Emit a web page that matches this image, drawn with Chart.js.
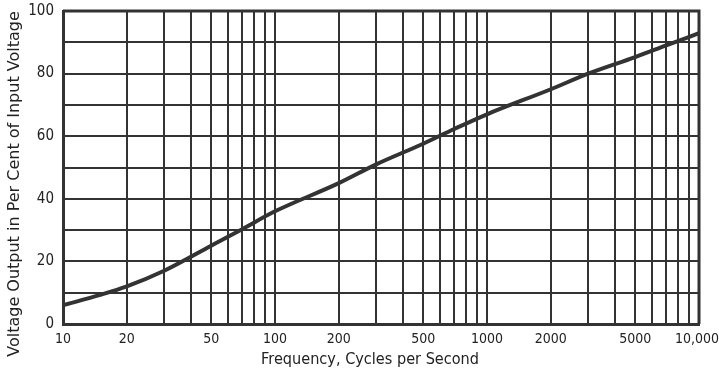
<!DOCTYPE html>
<html>
<head>
<meta charset="utf-8">
<script src="https://cdn.jsdelivr.net/npm/chart.js@4.4.1/dist/chart.umd.min.js"></script>
<style>
  html, body { margin: 0; padding: 0; background: #fff; }
  #wrap { width: 719px; height: 371px; position: relative; }
</style>
</head>
<body>
<div id="wrap"><canvas id="freqchart"></canvas></div>
<script>
// frequency response
var frequency = [10, 15, 20, 30, 50, 70, 100, 200, 300, 500, 700, 1000, 2000, 3000, 5000, 7000, 10000];
var outputPct = [6, 9.3, 12, 17, 25, 30.3, 36, 45, 51, 57.6, 62.3, 67, 75, 80, 85.3, 89, 92.9];

// log paper grid lines and the ones that carry a label
var xGrid = [10, 20, 30, 40, 50, 60, 70, 80, 90, 100, 200, 300, 400, 500, 600, 700, 800, 900,
  1000, 2000, 3000, 4000, 5000, 6000, 7000, 8000, 9000, 10000];
var xLabels = { 10: "10", 20: "20", 50: "50", 100: "100", 200: "200", 500: "500",
  1000: "1000", 2000: "2000", 5000: "5000", 10000: "10,000 " }; // trailing space keeps it inside the canvas
var yLabels = [0, 20, 40, 60, 80, 100];
var xTitle = "Frequency, Cycles per Second";
var yTitle = "Voltage Output in Per Cent of Input Voltage";

var ink = "#333";
var fontFam = "'DejaVu Sans', sans-serif";
var tickFam = "'DejaVu Sans Condensed', 'DejaVu Sans', sans-serif";

var pts = frequency.map(function (f, i) { return { x: f, y: outputPct[i] }; });

var ctx = document.getElementById("freqchart").getContext("2d");
var chart = new Chart(ctx, {
  type: "line",
  data: {
    datasets: [{
      data: pts,
      borderColor: ink,
      borderWidth: 4,
      pointRadius: 0,
      cubicInterpolationMode: "monotone",
      fill: false
    }]
  },
  options: {
    responsive: true,
    maintainAspectRatio: false,
    animation: false,
    layout: { padding: { left: 0, right: 20, top: 11, bottom: 0 } },
    plugins: { legend: { display: false }, tooltip: { enabled: false } },
    scales: {
      x: {
        type: "logarithmic",
        min: 10,
        max: 10000,
        afterBuildTicks: function (scale) {
          scale.ticks = xGrid.map(function (v) { return { value: v }; });
        },
        afterFit: function (scale) {
          scale.height = 47;
          scale.paddingLeft = 0;
          scale.paddingRight = 0;
        },
        grid: { color: ink, lineWidth: 2, drawTicks: false },
        border: { color: ink, width: 3 },
        ticks: {
          autoSkip: false,
          maxRotation: 0,
          padding: 7,
          color: "#222",
          font: { family: tickFam, size: 14 },
          callback: function (v) { return xLabels[v] || ""; }
        }
      },
      y: {
        min: 0,
        max: 100,
        afterBuildTicks: function (scale) {
          var t = [];
          for (var v = 0; v <= 100; v += 10) t.push({ value: v });
          scale.ticks = t;
        },
        afterFit: function (scale) {
          scale.width = 63;
          scale.paddingTop = 0;
          scale.paddingBottom = 0;
        },
        grid: { color: ink, lineWidth: 2, drawTicks: false },
        border: { color: ink, width: 3 },
        ticks: {
          autoSkip: false,
          padding: 9,
          color: "#222",
          font: { family: tickFam, size: 15 },
          callback: function (v) { return yLabels.indexOf(v) >= 0 ? String(v) : ""; }
        }
      }
    }
  },
  plugins: [{
    id: "frameAndTitles",
    afterDraw: function (c) {
      var a = c.chartArea, g = c.ctx;
      g.save();
      g.strokeStyle = ink;
      g.lineWidth = 3;
      g.beginPath();
      g.moveTo(a.left, a.top);
      g.lineTo(a.right, a.top);
      g.lineTo(a.right, a.bottom);
      g.stroke();
      g.fillStyle = "#222";
      g.textAlign = "center";
      g.textBaseline = "middle";
      g.font = "15px " + fontFam;
      g.fillText(xTitle, 370, 360, 218);
      // y title runs down past the plot, like the original
      g.translate(15, 184);
      g.rotate(-Math.PI / 2);
      g.font = "16px " + fontFam;
      g.fillText(yTitle, 0, 0, 346);
      g.restore();
    }
  }]
});
</script>
</body>
</html>
